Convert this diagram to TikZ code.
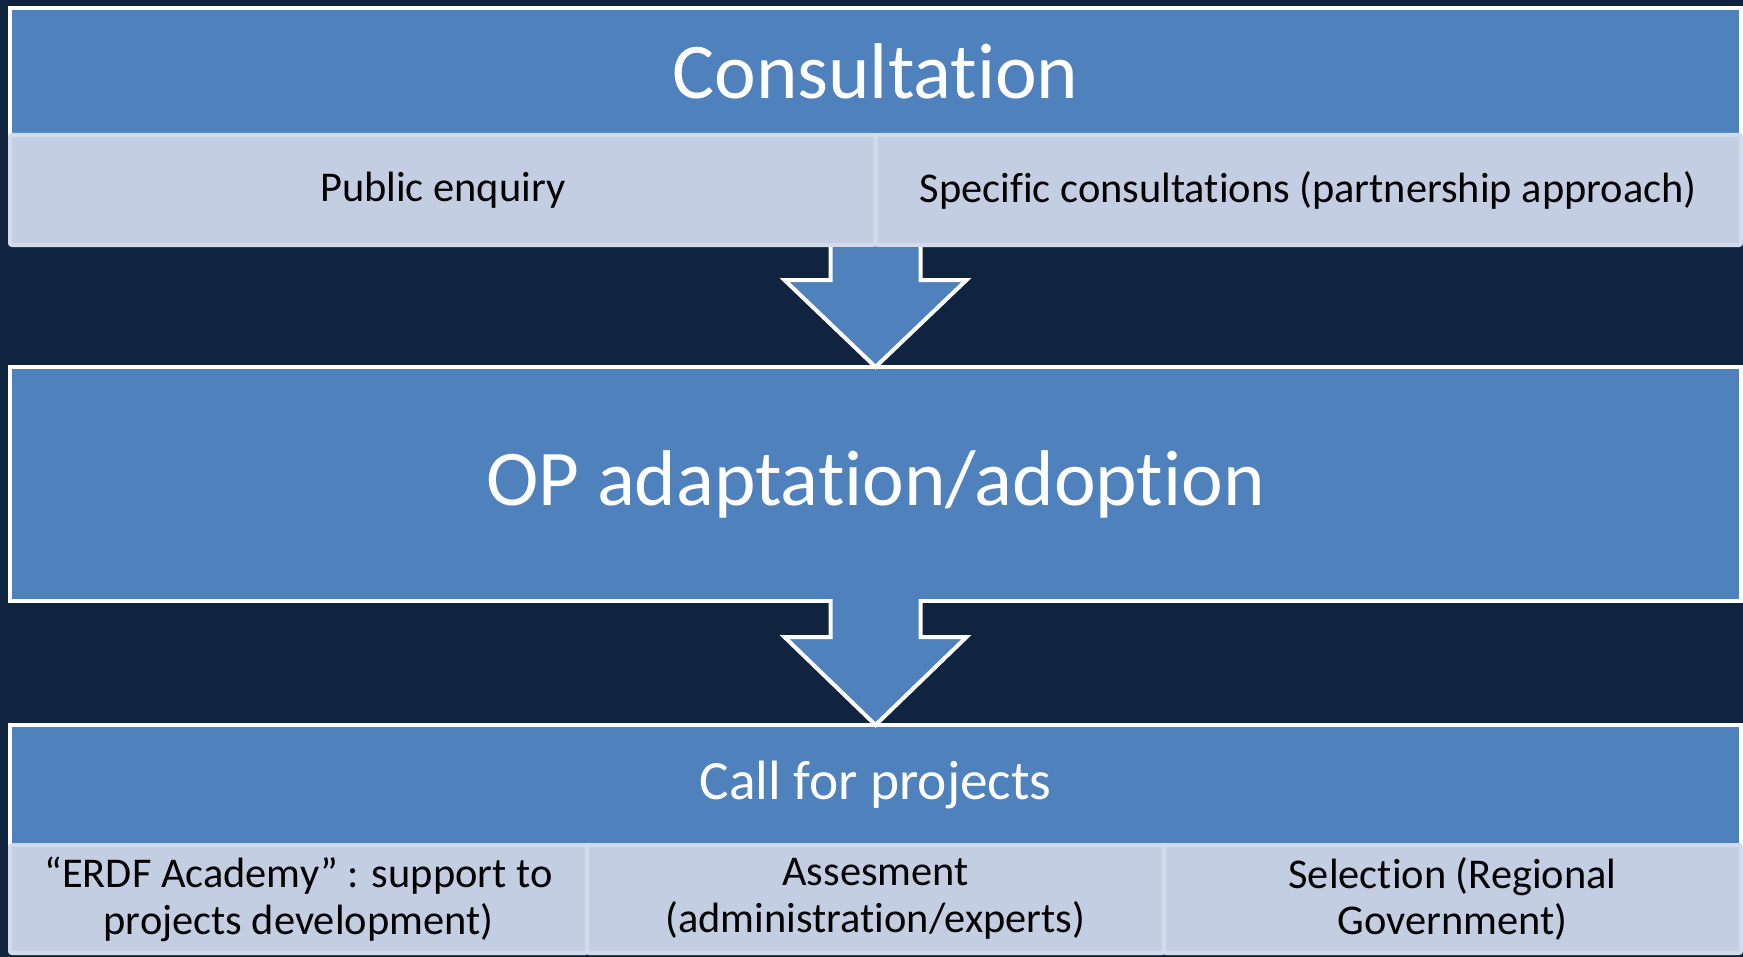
\documentclass[tikz,border=0pt]{standalone}
\usepackage{fontspec}
\setmainfont[Ligatures=NoCommon]{Carlito}
\usetikzlibrary{calc}

\definecolor{navy}{HTML}{10243F}
\definecolor{accent}{HTML}{4F81BD}
\definecolor{paleblue}{HTML}{C3CEE2}
\definecolor{paleedge}{HTML}{D3DBEA}

% keep t-i and f-i apart (no ligature glyphs)
\newcommand{\tsep}{t\kern0pt i}
\newcommand{\fsep}{f\kern0pt i}

\tikzset{
	head/.style={draw=white, line width=2pt, fill=accent, text=white, inner sep=0pt, outer sep=0pt},
	sub/.style={draw=paleedge, line width=2pt, fill=paleblue, rounded corners=1pt, text=black, inner sep=0pt, outer sep=0pt, align=center, font=\fontsize{21.2}{23.4}\selectfont},
	blockarrow/.style={fill=accent, draw=white, line width=2pt, line join=miter}
}

\begin{document}
\begin{tikzpicture}[x=0.5pt, y=-0.5pt]
	\useasboundingbox[fill=navy] (0,0) rectangle (1743,957);
	% consultation
	\node[head, minimum width=865.5pt, minimum height=63.5pt, font=\fontsize{39.5}{47}\selectfont] (cons)at(875.5, 71.5) {Consulta\tsep on};
	\node[sub, minimum width=432.75pt, minimum height=55pt] (public)at(442.75, 190) {Public enquiry};
	\node[sub, minimum width=432.75pt, minimum height=55pt] (specific)at(1308.25, 190) {Speci\fsep c consulta\tsep ons (partnership approach)};
	% adoption
	\node[head, minimum width=865.5pt, minimum height=117pt, font=\fontsize{39.5}{47}\selectfont] (op)at(875.5, 484) {OP adapta\tsep on/adop\tsep on};
	% call for projects
	\node[head, minimum width=865.5pt, minimum height=60pt, font=\fontsize{27.7}{33}\selectfont] (call)at(875.5, 785) {Call for projects};
	\node[sub, minimum width=288.5pt, minimum height=54pt] (academy)at(298.5, 899) {“ERDF Academy” : support to\\projects development)};
	\node[sub, minimum width=288.5pt, minimum height=54pt] (assess)at(875.5, 899) {Assesment\\(administra\tsep on/experts)};
	\node[sub, minimum width=288.5pt, minimum height=54pt] (select)at(1452.5, 899) {Selec\tsep on (Regional\\Government)};
	% arrows
	\filldraw[blockarrow] ($(public.south east)+(-45,2)$) -- ++(0,33) -- ++(-46,0) -- (op.north) -- ($(public.south east)+(91,35)$) -- ++(-46,0) -- ++(0,-33);
	\filldraw[blockarrow] ($(op.south)+(-45,-2)$) -- ++(0,38) -- ++(-46,0) -- (call.north) -- ($(op.south)+(91,36)$) -- ++(-46,0) -- ++(0,-38);
\end{tikzpicture}
\end{document}
